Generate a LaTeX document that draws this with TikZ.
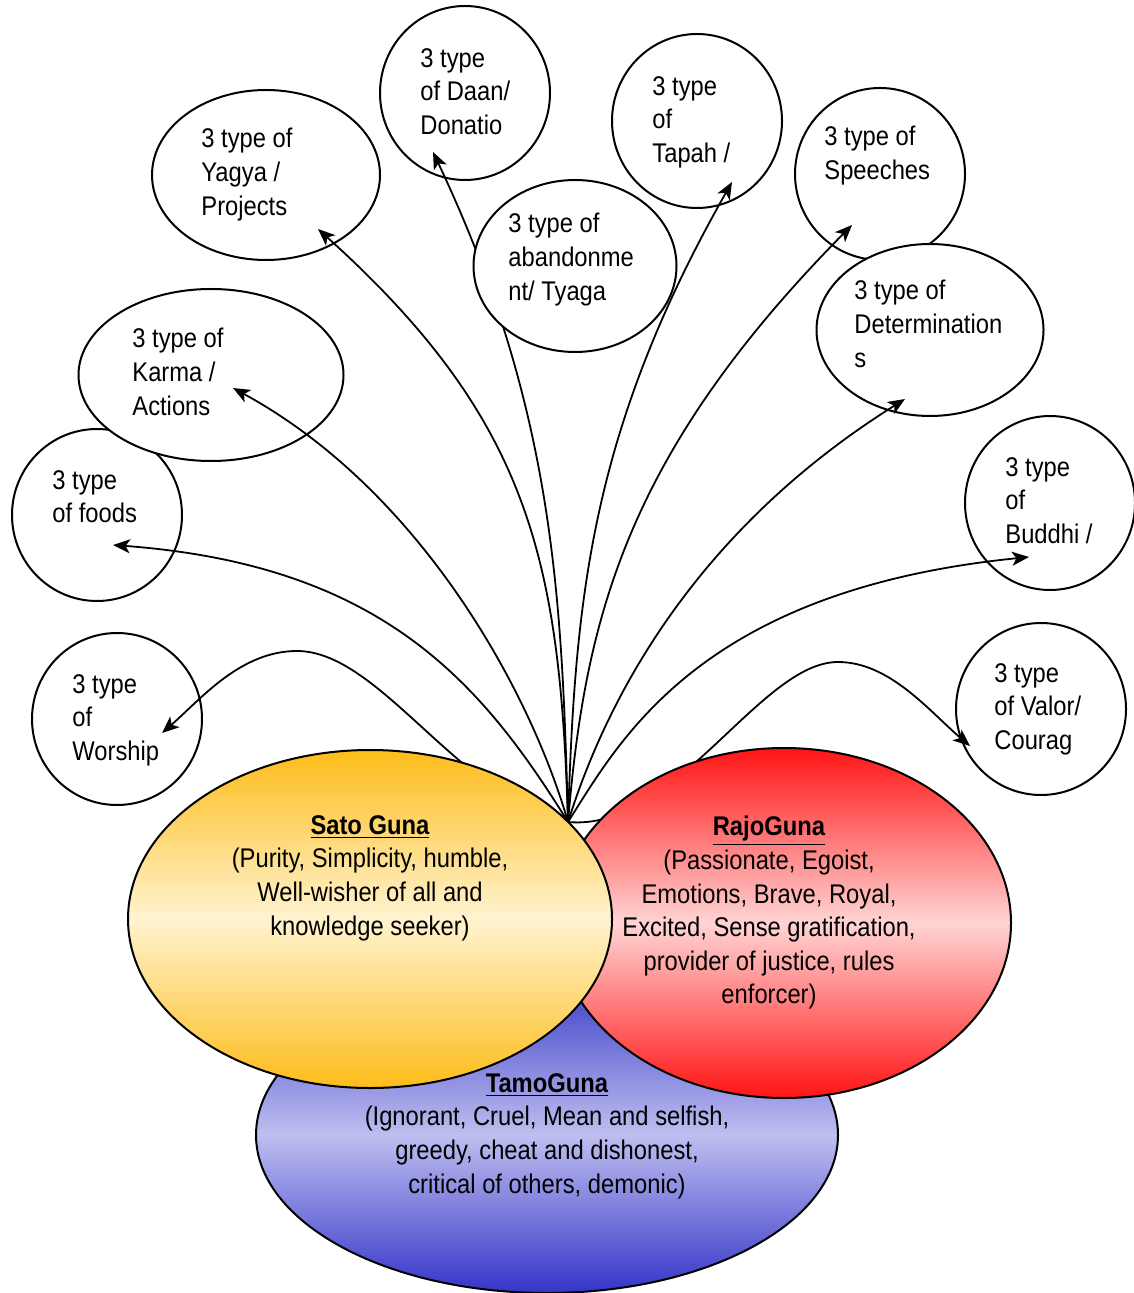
\documentclass[tikz,border=0pt]{standalone}
\usepackage{fontspec}
\setmainfont{Liberation Sans}[FakeStretch=0.88]
\usetikzlibrary{shapes.geometric, arrows.meta}
\definecolor{satoDark}{RGB}{253,188,25}
\definecolor{satoLight}{RGB}{255,243,208}
\definecolor{rajoDark}{RGB}{255,20,20}
\definecolor{rajoLight}{RGB}{255,212,212}
\definecolor{tamoTop}{RGB}{60,60,200}
\definecolor{tamoMid}{RGB}{190,190,240}
\definecolor{tamoBot}{RGB}{52,52,200}
\begin{document}
\begin{tikzpicture}[x=0.5pt, y=-0.5pt,
  bubble/.style={ellipse, draw, line width=1pt, fill=white, inner sep=0pt},
  guna/.style={ellipse, draw, line width=1pt, inner sep=0pt},
  lbl/.style={anchor=north west, inner sep=0pt, align=left, font=\fontsize{13.5pt}{16.8pt}\selectfont},
  glbl/.style={anchor=north, inner sep=0pt, align=center, font=\fontsize{13.5pt}{16.8pt}\selectfont},
  conn/.style={line width=0.9pt, -{Stealth[length=8.5pt, width=7pt, inset=2.2pt]}},
]
\path[use as bounding box, fill=white] (0,0) rectangle (1133,1293);

% common origin and arrow tips
\coordinate (O) at (568,822);
\coordinate (tWorship) at (162,733);
\coordinate (tFoods) at (113,545);
\coordinate (tKarma) at (233,388);
\coordinate (tYagya) at (318,229);
\coordinate (tDaan) at (433,152);
\coordinate (tTapah) at (732,182);
\coordinate (tSpeech) at (852,225);
\coordinate (tDeterm) at (905,399);
\coordinate (tBuddhi) at (1029,557);
\coordinate (tValor) at (970,746);

% circles behind the tyaga circle
\node[bubble, minimum width=85pt, minimum height=87pt] (daan) at (465,93) {};
\node[bubble, minimum width=85pt, minimum height=87pt] (tapah) at (697,121) {};
\draw[conn] (O) .. controls (562,600) and (555,410) .. (tDaan);
\draw[conn] (O) .. controls (575,600) and (590,432) .. (tTapah);
\node[bubble, minimum width=101.5pt, minimum height=86pt] (tyaga) at (575,266) {};

% other circles
\node[bubble, minimum width=85pt, minimum height=86pt] (foods) at (97,515) {};
\node[bubble, minimum width=132.5pt, minimum height=86pt] (karma) at (211,375) {};
\node[bubble, minimum width=114pt, minimum height=85pt] (yagya) at (266,175) {};
\node[bubble, minimum width=85pt, minimum height=86pt] (worship) at (117,719) {};
\node[bubble, minimum width=85pt, minimum height=86pt] (speeches) at (880,174) {};
\node[bubble, minimum width=113.5pt, minimum height=86pt] (determ) at (930,330) {};
\node[bubble, minimum width=85pt, minimum height=87pt] (buddhi) at (1050,503) {};
\node[bubble, minimum width=85pt, minimum height=86pt] (valor) at (1041,709) {};

% connectors
\draw[conn] (O) .. controls (460,800) and (380,651) .. (297,651) .. controls (240,651) and (200,700) .. (tWorship);
\draw[conn] (O) .. controls (480,680) and (380,565) .. (tFoods);
\draw[conn] (O) .. controls (530,690) and (420,490) .. (tKarma);
\draw[conn] (O) .. controls (560,560) and (530,420) .. (tYagya);
\draw[conn] (O) .. controls (585,620) and (625,455) .. (tSpeech);
\draw[conn] (O) .. controls (600,720) and (680,540) .. (tDeterm);
\draw[conn] (O) .. controls (620,740) and (700,590) .. (tBuddhi);
\draw[conn] (O) .. controls (675,832) and (760,662) .. (838,662) .. controls (890,662) and (930,712) .. (tValor);

% the three gunas
\node[guna, minimum width=291pt, minimum height=158pt, top color=tamoTop, bottom color=tamoBot, middle color=tamoMid] (tamo) at (547,1135) {};
\node[guna, minimum width=227pt, minimum height=175pt, top color=rajoDark, bottom color=rajoDark, middle color=rajoLight] (rajo) at (784,923) {};
\node[guna, minimum width=242pt, minimum height=169pt, top color=satoDark, bottom color=satoDark, middle color=satoLight] (sato) at (370,919) {};

% labels
\node[lbl] (lWorship) at (72,674) {3 type\\of\\Worship};
\node[lbl] (lFoods) at (52,470) {3 type\\of foods};
\node[lbl] (lKarma) at (132,328) {3 type of\\Karma /\\Actions};
\node[lbl] (lYagya) at (201,128) {3 type of\\Yagya /\\Projects};
\node[lbl] (lDaan) at (420,48) {3 type\\of Daan/\\Donatio};
\node[lbl] (lTyaga) at (508,213) {3 type of\\abandonme\\nt/ Tyaga};
\node[lbl] (lTapah) at (652,76) {3 type\\of\\Tapah /};
\node[lbl] (lSpeech) at (824,126) {3 type of\\Speeches};
\node[lbl] (lDeterm) at (854,280) {3 type of\\Determination\\s};
\node[lbl] (lBuddhi) at (1005,457) {3 type\\of\\Buddhi /};
\node[lbl] (lValor) at (994,663) {3 type\\of Valor/\\Courag};

\node[glbl] (lSato) at (370,815) {\underline{\textbf{Sato Guna}}\\(Purity, Simplicity, humble,\\Well-wisher of all and\\knowledge seeker)};
\node[glbl] (lRajo) at (769,816) {\underline{\textbf{RajoGuna}}\\(Passionate, Egoist,\\Emotions, Brave, Royal,\\Excited, Sense gratification,\\provider of justice, rules\\enforcer)};
\node[glbl] (lTamo) at (547,1073) {\underline{\textbf{TamoGuna}}\\(Ignorant, Cruel, Mean and selfish,\\greedy, cheat and dishonest,\\critical of others, demonic)};
\end{tikzpicture}
\end{document}
